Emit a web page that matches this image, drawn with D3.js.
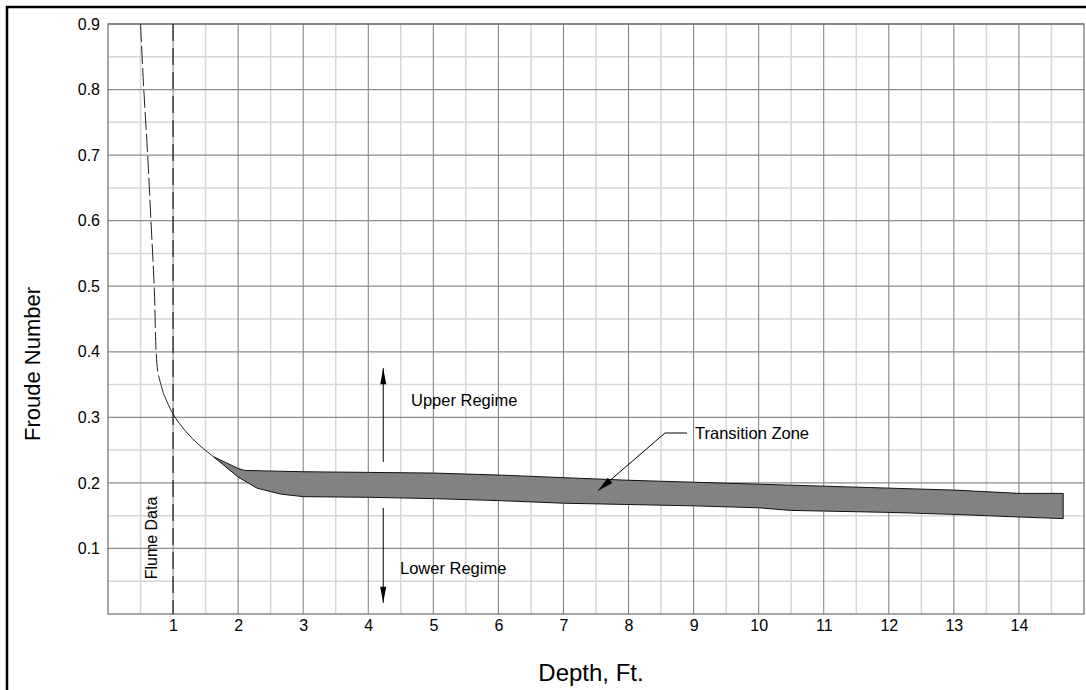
<!DOCTYPE html>
<html>
<head>
<meta charset="utf-8">
<script src="https://cdn.jsdelivr.net/npm/d3@7"></script>
<style>
  html, body { margin: 0; padding: 0; background: #fff; }
  svg { display: block; }
  text { font-family: Arial, "Liberation Sans", sans-serif; fill: #000; }
</style>
</head>
<body>
<svg id="chart" width="1086" height="690"></svg>
<script>
// ---- data ----
const xTicks = [1,2,3,4,5,6,7,8,9,10,11,12,13,14];
const yTicks = [0.1,0.2,0.3,0.4,0.5,0.6,0.7,0.8,0.9];
const xMinor = [0.5,1.5,2.5,3.5,4.5,5.5,6.5,7.5,8.5,9.5,10.5,11.5,12.5,13.5,14.5];
const yMinor = [0.05,0.15,0.25,0.35,0.45,0.55,0.65,0.75,0.85];

// extrapolated (dashed) part of curve: depth, Froude
const dashDepth  = [0.50, 0.55, 0.61, 0.66, 0.71, 0.74, 0.765, 0.80, 0.85];
const dashFroude = [0.90, 0.80, 0.70, 0.60, 0.50, 0.40, 0.370, 0.355, 0.337];
// solid part of curve
const solidDepth  = [0.85, 1.00, 1.20, 1.40, 1.62];
const solidFroude = [0.337, 0.305, 0.278, 0.258, 0.240];
// transition zone upper boundary
const upperDepth  = [1.62, 2.00, 2.10, 3.0, 4.0, 5.0, 6.0, 7.0, 8.0, 9.0, 10.0, 11.0, 12.0, 13.0, 14.0, 14.68];
const upperFroude = [0.240, 0.222, 0.219, 0.217, 0.216, 0.215, 0.212, 0.208, 0.204, 0.201, 0.198, 0.195, 0.192, 0.189, 0.184, 0.184];
// transition zone lower boundary
const lowerDepth  = [1.62, 2.00, 2.29, 2.65, 3.0, 4.0, 5.0, 6.0, 7.0, 8.0, 9.0, 10.0, 10.5, 11.0, 12.0, 13.0, 14.0, 14.68];
const lowerFroude = [0.240, 0.209, 0.192, 0.183, 0.179, 0.178, 0.176, 0.173, 0.169, 0.167, 0.165, 0.162, 0.158, 0.157, 0.155, 0.152, 0.148, 0.1455];

const flumeDepth = 1.0;
const regimeDepth = 4.23;
const upperArrow = [0.232, 0.375];   // from, to (Froude)
const lowerArrow = [0.162, 0.017];

// ---- layout ----
const svg = d3.select("#chart");
const M = { left: 108, top: 24, right: 1084, bottom: 614 };
const x = d3.scaleLinear().domain([0, 15]).range([M.left, M.right]);
const y = d3.scaleLinear().domain([0, 0.9]).range([M.bottom, M.top]);

// outer frame
svg.append("rect").attr("x", 7).attr("y", 7).attr("width", 1200).attr("height", 800)
  .attr("fill", "none").attr("stroke", "#000").attr("stroke-width", 2.5);

const g = svg.append("g");

// minor grid
g.selectAll(".vmin").data(xMinor).join("line")
  .attr("x1", d => x(d)).attr("x2", d => x(d)).attr("y1", y(0)).attr("y2", y(0.9))
  .attr("stroke", "#d6d6d6").attr("stroke-width", 1.5);
g.selectAll(".hmin").data(yMinor).join("line")
  .attr("x1", x(0)).attr("x2", x(15)).attr("y1", d => y(d)).attr("y2", d => y(d))
  .attr("stroke", "#d6d6d6").attr("stroke-width", 1.5);
// major grid
g.selectAll(".vmaj").data(xTicks).join("line")
  .attr("x1", d => x(d)).attr("x2", d => x(d)).attr("y1", y(0)).attr("y2", y(0.9))
  .attr("stroke", "#7a7a7a").attr("stroke-width", 1);
g.selectAll(".hmaj").data(yTicks).join("line")
  .attr("x1", x(0)).attr("x2", x(15)).attr("y1", d => y(d)).attr("y2", d => y(d))
  .attr("stroke", "#8c8c8c").attr("stroke-width", 1.3);
// plot frame
g.append("rect").attr("x", x(0)).attr("y", y(0.9)).attr("width", x(15) - x(0)).attr("height", y(0) - y(0.9))
  .attr("fill", "none").attr("stroke", "#777").attr("stroke-width", 1.3);

// axes (labels only)
const xAxis = d3.axisBottom(x).tickValues(xTicks).tickSize(0).tickPadding(6).tickFormat(d3.format("d"));
const xa = svg.append("g").attr("transform", `translate(0,${y(0)})`).call(xAxis);
xa.select(".domain").remove();
xa.selectAll("text").attr("font-size", 16).attr("font-family", "Arial, 'Liberation Sans', sans-serif").attr("fill", "#000");

const yAxis = d3.axisLeft(y).tickValues(yTicks).tickSize(0).tickPadding(8).tickFormat(d3.format(".1f"));
const ya = svg.append("g").attr("transform", `translate(${x(0)},0)`).call(yAxis);
ya.select(".domain").remove();
ya.selectAll("text").attr("font-size", 16).attr("font-family", "Arial, 'Liberation Sans', sans-serif").attr("fill", "#000");

// axis titles
svg.append("text").attr("x", 591).attr("y", 681).attr("text-anchor", "middle")
  .attr("font-size", 24).text("Depth, Ft.");
svg.append("text").attr("transform", "translate(40,364) rotate(-90)").attr("text-anchor", "middle")
  .attr("font-size", 22).text("Froude Number");

// flume data line
g.append("line").attr("x1", x(flumeDepth)).attr("x2", x(flumeDepth)).attr("y1", y(0.9)).attr("y2", y(0))
  .attr("stroke", "#000").attr("stroke-width", 1).attr("stroke-dasharray", "17,7");
svg.append("text").attr("transform", `translate(${x(flumeDepth) - 16},538) rotate(-90)`)
  .attr("text-anchor", "middle").attr("font-size", 16).text("Flume Data");

// transition band
const line = d3.line().x(d => x(d[0])).y(d => y(d[1]));
const upperPts = upperDepth.map((d, i) => [d, upperFroude[i]]);
const lowerPts = lowerDepth.map((d, i) => [d, lowerFroude[i]]);
g.append("path").attr("d", line(upperPts.concat(lowerPts.slice().reverse())) + "Z")
  .attr("fill", "#828282").attr("stroke", "#111").attr("stroke-width", 1).attr("stroke-linejoin", "round");

// curve
g.append("path").attr("d", d3.line().x(d => x(d[0])).y(d => y(d[1])).curve(d3.curveCatmullRom)(dashDepth.map((d, i) => [d, dashFroude[i]])))
  .attr("fill", "none").attr("stroke", "#222").attr("stroke-width", 1).attr("stroke-dasharray", "18,4");
g.append("path").attr("d", d3.line().x(d => x(d[0])).y(d => y(d[1])).curve(d3.curveCatmullRom)(solidDepth.map((d, i) => [d, solidFroude[i]])))
  .attr("fill", "none").attr("stroke", "#222").attr("stroke-width", 1);

// arrows
function arrow(x1, y1, x2, y2, len, half) {
  g.append("line").attr("x1", x1).attr("y1", y1).attr("x2", x2).attr("y2", y2)
    .attr("stroke", "#000").attr("stroke-width", 1);
  const a = Math.atan2(y2 - y1, x2 - x1);
  const bx = x2 - len * Math.cos(a), by = y2 - len * Math.sin(a);
  const px = -Math.sin(a) * half, py = Math.cos(a) * half;
  g.append("path").attr("d", `M${x2},${y2}L${bx + px},${by + py}L${bx - px},${by - py}Z`).attr("fill", "#000");
}
arrow(x(regimeDepth), y(upperArrow[0]), x(regimeDepth), y(upperArrow[1]), 16, 3);
arrow(x(regimeDepth), y(lowerArrow[0]), x(regimeDepth), y(lowerArrow[1]), 16, 3);

svg.append("text").attr("x", 411).attr("y", 406).attr("font-size", 16.5).text("Upper Regime");
svg.append("text").attr("x", 400).attr("y", 574).attr("font-size", 16.5).text("Lower Regime");

// transition zone label + leader
g.append("line").attr("x1", 687).attr("y1", 433).attr("x2", 665).attr("y2", 433).attr("stroke", "#000").attr("stroke-width", 1);
arrow(665, 433, x(7.53), y(0.188), 16, 3.5);
svg.append("text").attr("x", 695).attr("y", 439).attr("font-size", 16.5).text("Transition Zone");
</script>
</body>
</html>
